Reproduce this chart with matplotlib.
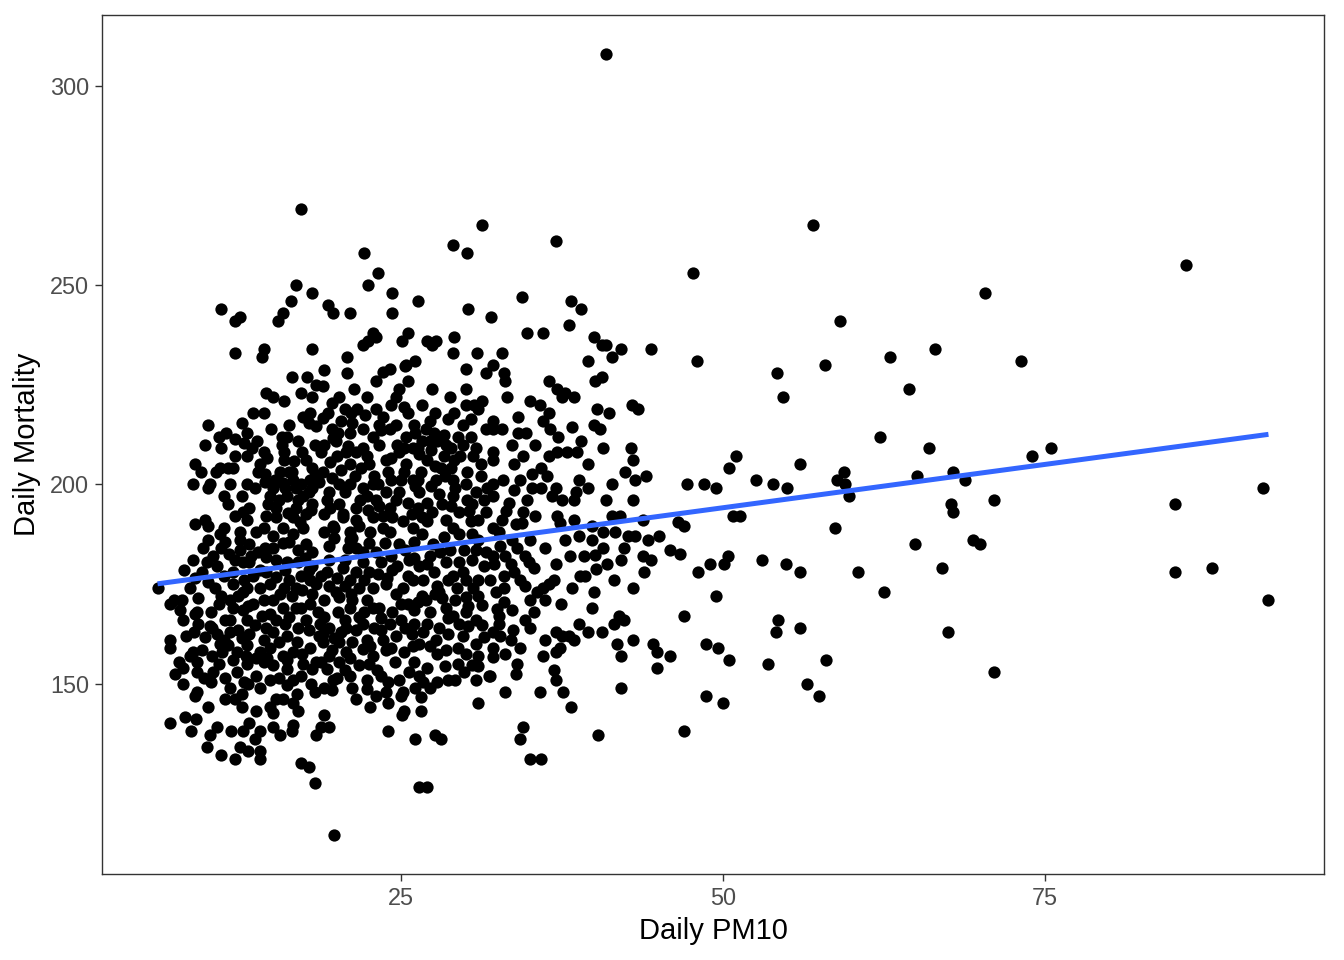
import numpy as np
import matplotlib
matplotlib.use("Agg")
import matplotlib.pyplot as plt

plt.rcParams['font.family'] = ['Liberation Sans', 'DejaVu Sans']

# sparse right-hand part (PM10 above ~45) plus the top outlier
right_x = [40.9, 57.0, 47.7, 86.0, 70.4, 59.1, 66.5, 63.0, 73.2, 54.2,
           57.9, 48.0, 64.5, 54.7, 62.2, 66.0, 75.5, 74.0, 51.0, 50.5,
           56.0, 65.1, 67.9, 59.4, 58.9, 59.5, 52.6, 53.9, 55.0, 68.8,
           67.7, 67.9, 59.8, 85.1, 92.0, 71.1, 69.4, 70.0, 64.9, 58.7,
           50.8, 51.3, 47.2, 48.5, 49.5, 50.4, 53.0, 49.0, 50.1, 48.1,
           54.9, 56.0, 60.5, 67.0, 85.1, 88.0, 92.4, 62.5, 49.5, 54.3,
           54.1, 56.0, 67.5, 47.0, 48.7, 49.6, 50.5, 53.5, 58.0, 71.1,
           56.5, 57.5, 48.7, 50.0, 47.0]
right_y = [308, 265, 253, 255, 248, 241, 234, 232, 231, 228,
           230, 231, 224, 222, 212, 209, 209, 207, 207, 204,
           205, 202, 203, 203, 201, 200, 201, 200, 199, 201,
           195, 193, 197, 195, 199, 196, 186, 185, 185, 189,
           192, 192, 200, 200, 199, 182, 181, 180, 180, 178,
           180, 178, 178, 179, 178, 179, 171, 173, 172, 166,
           163, 164, 163, 167, 160, 159, 156, 155, 156, 153,
           150, 147, 147, 145, 138]

# upper band (mortality above ~230)
top_x = [37.0, 34.4, 38.2, 39.0, 32.0, 38.0, 34.75, 36.0, 40.0, 40.6,
         40.9, 42.05, 44.4, 41.4, 32.8, 39.55, 32.1,
         31.3, 29.0, 30.1, 22.1, 23.2, 22.4, 24.3, 26.3, 19.3, 19.7,
         21.0, 24.3, 30.2, 22.8, 22.0, 22.4, 23.0, 25.5, 25.05, 27.0,
         27.7, 27.4, 29.1, 29.0, 30.9, 20.8, 26.1, 25.4,
         17.2, 16.8, 18.1, 16.4, 11.0, 15.8, 15.4, 12.5, 12.1, 18.1,
         12.1, 14.3, 14.2]
top_y = [261, 247, 246, 244, 242, 240, 238, 238, 237, 235,
         235, 234, 234, 232, 233, 231, 230,
         265, 260, 258, 258, 253, 250, 248, 246, 245, 243,
         243, 243, 244, 238, 235, 236, 237, 238, 236, 236,
         236, 235, 237, 233, 233, 232, 231, 230,
         269, 250, 248, 246, 244, 243, 241, 242, 241, 234,
         233, 234, 232]

# left block, mortality 189-228
ul_x = [16.5, 17.7, 18.4, 14.5, 15.0, 15.9, 17.2, 18.1, 13.5, 14.3,
        17.4, 17.9, 18.4, 10.0, 10.8, 13.0, 9.75, 11.0, 15.7, 16.1,
        15.7, 17.0, 18.3, 17.3, 14.3, 12.1, 13.0, 15.9, 15.9, 9.0,
        9.4, 10.9, 11.5, 11.9, 14.0, 13.9, 14.4, 15.6, 16.3, 18.1,
        8.85, 10.1, 10.0, 11.2, 13.0, 15.0, 15.8, 16.6, 16.85, 17.9,
        18.1, 16.1, 17.4, 14.65, 15.3, 16.85, 18.1, 13.2, 12.7, 12.1,
        13.0, 14.5, 15.3, 16.6, 17.6, 9.0, 9.75, 10.0, 11.2, 14.3,
        15.8, 17.4,
        16.0, 17.0, 15.2, 17.8, 16.5, 14.8, 18.3, 17.2, 15.5, 16.2,
        17.1, 18.0, 12.8, 13.8, 11.4, 12.6, 16.3, 14.9, 17.6, 16.7]
ul_y = [227, 227, 225, 223, 222, 221, 223, 222, 218, 218,
        217, 218, 214.6, 215, 212, 213, 210, 209, 212, 212,
        210, 211, 210, 208, 208, 207, 207, 208, 206, 205,
        203, 204, 204, 204, 205, 203, 202.5, 203, 203, 204,
        200, 200, 199, 197, 200, 199, 200.4, 201, 199, 201,
        199, 197, 197, 195, 194, 194, 195, 194, 193, 192,
        191, 192, 191.7, 191.7, 192.5, 190, 191, 189.6, 189, 189,
        189, 189,
        199, 196, 201, 198, 203, 197, 202, 200, 196, 192.8,
        190.5, 193.5, 210.5, 211, 213, 215.5, 215, 214, 206, 205.8]

# middle block, mortality 189-230
um_x = [19.0, 20.8, 23.6, 24.1, 23.0, 25.5, 25.3, 30.0, 24.8, 27.4,
        30.0, 31.6, 18.9, 20.2, 28.8, 31.3, 30.0, 30.65, 31.0, 29.1,
        23.0, 25.2, 25.5, 20.6, 21.6, 21.1, 19.3, 18.9, 21.2, 22.0,
        23.3, 23.4, 24.1, 24.6, 26.0, 26.9, 27.55, 28.3, 29.4, 30.4,
        25.35, 26.1, 26.65, 27.2, 27.8, 28.45, 21.0, 20.1, 19.7, 19.9,
        19.0, 24.7, 25.2, 24.8, 25.9, 26.4, 22.0, 21.5, 20.7, 28.85,
        28.3, 29.1, 29.6, 31.2, 18.9, 21.9, 22.5, 25.35, 25.2, 26.5,
        28.1, 27.7, 29.0, 30.0, 30.8, 31.7, 24.2, 25.0, 25.9, 26.1,
        26.4, 27.3, 22.8, 23.2, 22.0, 20.2, 21.0, 19.4, 23.8, 24.8,
        22.3, 29.0, 30.1, 31.4, 27.0, 25.5, 24.1, 23.3, 21.5, 20.2,
        19.2, 19.0, 20.45, 22.8, 24.3, 25.1, 26.65, 27.0, 28.45, 30.3,
        30.4, 31.55, 19.7, 21.75, 23.55, 25.9, 29.0,
        20.0, 21.0, 22.3, 23.3, 23.8, 24.0, 22.9, 21.4, 20.3, 19.5,
        20.6, 21.8, 23.0, 24.6, 26.3, 27.4, 28.2, 29.5, 29.2, 28.4,
        27.0, 26.3, 27.3, 29.8, 30.8, 31.2, 30.6, 31.6, 29.8, 28.6,
        27.6, 26.6, 24.2, 22.3, 19.6, 20.3]
um_y = [228.7, 228, 228.3, 229, 226, 226, 229.6, 229, 224, 224,
        224, 228, 224.6, 222, 222, 221, 220, 220, 219, 218,
        219, 219.3, 218, 219, 219, 218, 218, 216.7, 215.4, 214,
        215, 213.75, 214, 215, 215, 214, 213, 212.5, 212, 212,
        212, 213, 211, 211, 211, 210, 213, 213, 211.7, 211,
        210, 210, 209, 208, 209, 207.5, 209, 208, 208, 209,
        207, 206, 207, 205, 203, 204, 205, 205, 203, 203,
        204, 201, 201, 200, 198, 199, 201, 201, 201, 199.6,
        198, 199.6, 200, 200, 199, 200, 200, 198, 198, 198,
        197, 197, 196, 196, 195.4, 195.4, 194, 194.6, 194, 195,
        196, 192.5, 191.7, 191.7, 191.7, 190.8, 191.7, 190.8, 191, 193.3,
        190.8, 193, 189.6, 189.6, 189, 189, 189,
        207, 205, 207, 210, 206, 203, 202, 202, 203.5, 205.5,
        198, 196, 196, 196, 194, 193, 195, 193, 199, 202,
        206, 209, 208.5, 210, 209, 202, 207, 214, 215, 216.5,
        218, 220, 220, 222, 214, 216]

# right block, mortality 189-228
ur_x = [33.0, 33.05, 36.5, 37.1, 37.75, 38.4, 37.5, 40.05, 40.6, 35.0,
        35.8, 36.5, 36.0, 36.6, 37.2, 40.2, 41.15, 42.9, 43.4, 40.0,
        40.45, 32.1, 32.1, 32.8, 34.1, 34.7, 33.6, 35.4, 34.5, 36.5,
        37.1, 37.9, 38.65, 32.1, 32.1, 40.65, 42.85, 43.0, 39.55, 42.4,
        43.2, 44.05, 41.35, 35.9, 35.15, 36.3, 34.25, 32.9, 32.1, 35.15,
        35.9, 37.0, 38.8, 38.6, 36.7, 37.5, 38.4, 34.8, 32.1, 33.35,
        33.15, 35.4, 37.1, 37.35, 38.4, 41.35, 42.0, 34.4, 32.1, 39.8,
        43.8,
        33.8, 39.0, 34.1, 38.3, 33.2, 39.5, 40.9, 43.0]
ur_y = [228, 226, 226, 224, 223, 222, 222, 226, 227, 221,
        220, 218, 216, 214, 212, 219, 218, 220, 219, 215,
        214, 216, 214, 214, 213, 213, 210, 210, 207, 207,
        208, 208, 208, 208, 206, 209, 209, 206, 205, 203,
        201, 202, 200, 204, 202.5, 202, 201, 201, 200, 199,
        199, 199, 201, 198, 197, 196, 196, 196, 197, 195.4,
        193.3, 192, 192, 190.4, 191, 192, 192, 190.4, 189, 189.6,
        191,
        205, 211, 217, 214.5, 222, 199, 196, 196]

# left block, mortality 148-188
ll_x = [6.06, 8.6, 7.3, 7.95, 7.05, 9.1, 9.2, 7.05, 7.0, 8.85,
        7.7, 7.4, 9.1, 9.1, 10.0, 10.9, 12.5, 11.0, 10.4, 9.9,
        9.5, 12.1, 12.7, 13.2, 13.9, 14.4, 15.0, 15.8, 16.6, 17.6,
        18.1, 10.5, 11.0, 11.7, 12.3, 13.0, 14.0, 14.8, 15.3, 16.3,
        17.2, 17.9, 16.85, 14.3, 15.0, 15.8, 16.85, 17.9, 18.1, 11.3,
        11.7, 13.0, 13.6, 15.3, 16.3, 17.6, 17.0, 16.1, 15.0, 14.3,
        13.2, 11.7, 10.3, 9.75, 10.9, 11.55, 12.2, 13.0, 14.0, 14.8,
        15.8, 16.6, 17.9, 18.4, 17.4, 16.1, 15.0, 14.3, 13.0, 11.9,
        10.8, 10.4, 12.2, 13.75, 17.2, 18.1, 9.1, 11.7, 14.0, 16.1,
        18.3, 12.5, 13.75, 14.5, 14.5, 13.5, 11.9, 16.1, 17.0, 18.1,
        10.2, 10.8, 11.2, 12.8, 13.5, 12.7, 14.2, 15.6, 16.5, 17.3,
        18.4, 16.0, 17.5, 15.3, 13.2, 11.6, 10.7, 9.0, 8.0, 8.3,
        9.5, 10.3, 11.2, 12.6, 13.7, 15.5, 16.9, 18.6, 18.5, 17.8,
        12.8, 15.5, 16.9, 10.2, 8.0, 12.6]
ll_y = [174, 174, 171, 171, 170, 168, 165, 161, 159, 158,
        155.4, 152.5, 155.4, 153, 186, 187.5, 186, 184, 182, 180.4,
        178, 181, 180.4, 180.4, 183, 184, 184, 185.4, 187.5, 185,
        183, 174, 172, 171, 172, 174, 174, 175, 176.7, 176,
        177, 176, 174, 171, 171, 169, 169, 170, 172.5, 166,
        166, 166, 164.6, 166, 166.7, 166, 164, 162, 163, 161,
        162.5, 163, 164, 161.7, 160, 159.6, 158, 159.6, 158, 159,
        157, 158, 159, 155.4, 155, 153.75, 154.6, 155.4, 155, 156,
        155, 153, 153, 152, 152, 153.75, 148, 149, 149, 149.6,
        148, 188, 188, 181.7, 178, 177, 178, 180.4, 180.4, 179.6,
        168, 170, 177, 176, 170, 168.5, 167, 172.5, 172, 173.5,
        175, 178.5, 181.5, 181, 185, 182.5, 179.5, 176.5, 166, 162,
        158.5, 157, 161, 161.5, 156.5, 160.5, 160.5, 162, 168, 163.5,
        150.5, 151.5, 147.5, 150.5, 150, 147.5]

# middle block, mortality 148-188
lm_x = [19.4, 20.85, 21.5, 22.5, 23.7, 24.8, 26.65, 28.3, 29.5, 30.5,
        31.0, 19.0, 21.0, 22.6, 24.1, 19.4, 20.6, 22.0, 22.5, 21.5,
        20.45, 19.2, 25.6, 26.4, 27.2, 27.55, 28.45, 29.5, 30.5, 31.4,
        29.0, 30.0, 31.0, 27.8, 27.95, 26.65, 25.1, 24.6, 23.8, 22.8,
        21.75, 20.6, 19.4, 19.0, 20.2, 21.2, 22.3, 23.3, 25.0, 25.5,
        27.2, 28.45, 29.2, 30.0, 31.0, 31.3, 30.0, 29.0, 29.5, 27.9,
        27.0, 26.0, 25.0, 24.1, 22.8, 21.75, 21.0, 20.1, 19.0, 19.4,
        20.7, 21.5, 22.9, 26.4, 27.7, 31.3, 31.4, 18.9, 20.2, 22.3,
        19.4, 20.7, 22.0, 22.8, 25.2, 24.5, 26.0, 27.0, 29.4, 30.0,
        31.0, 29.4, 30.5, 19.2, 20.6, 21.75, 23.4, 22.3, 19.7, 21.0,
        24.85, 26.4, 28.6, 29.2, 30.8, 31.8, 19.0, 23.8, 27.2, 25.1,
        26.1,
        19.8, 21.2, 23.0, 24.2, 25.3, 26.0, 27.5, 28.8, 29.9, 30.8,
        20.0, 21.0, 23.2, 24.3, 25.5, 26.7, 28.6, 30.6, 24.3, 26.0,
        26.9, 28.2, 30.8, 23.4, 22.1, 20.6, 19.8, 21.2, 23.6, 24.6,
        25.8, 28.6, 29.8, 23.8, 27.8, 28.4, 25.6, 22.5, 20.2, 31.0,
        27.8, 22.3]
lm_y = [184.6, 184, 184, 185.4, 185.4, 185, 187.5, 186.7, 187.5, 187.5,
        186, 188, 188, 188, 188, 181, 181, 180.4, 178, 178,
        179, 178, 181, 179.6, 182, 178, 180.4, 180.4, 181, 179.6,
        177, 176, 176, 174.6, 173, 172, 174, 172.5, 175, 174,
        174, 174.6, 174.6, 171, 171.7, 171, 171, 169, 170, 170,
        168, 169, 171, 171.7, 172, 169.6, 168, 167, 165, 164,
        165, 165, 166, 165, 169, 166.7, 169, 168, 166.7, 164,
        164, 163.4, 164, 160, 161, 164.6, 161.7, 160.4, 160.4, 161,
        157, 158, 158.75, 157, 158, 155.4, 155.4, 154, 159, 157.5,
        157, 155, 154.6, 153.75, 153.3, 154.6, 152, 151, 151, 152,
        151, 152, 151, 151, 151, 152, 149, 148, 149, 148,
        149,
        186.5, 186.5, 183, 182, 183.5, 185.5, 185, 183.5, 183.5, 183.5,
        176.5, 176, 177.5, 178.5, 177, 176, 176, 174, 168, 168.5,
        171, 171.5, 166, 166.5, 168, 166, 161.5, 160.5, 161, 162,
        162.5, 162.5, 162, 158.5, 157.5, 154.5, 153, 155, 155.5, 154.5,
        150.5, 148.7]

# right block, mortality 148-188
lr_x = [32.6, 33.6, 37.75, 38.8, 40.7, 41.6, 42.65, 43.2, 44.2, 36.2,
        40.7, 32.1, 33.05, 34.65, 38.1, 39.2, 40.05, 43.8, 44.45, 42.05,
        32.2, 33.5, 34.9, 35.3, 40.1, 33.75, 34.25, 39.3, 38.9, 43.85,
        36.85, 36.45, 36.0, 35.55, 38.25, 40.0, 41.5, 43.0, 33.0, 32.4,
        35.0, 36.2, 37.4, 33.0, 32.45, 32.6, 34.65, 35.0, 38.8, 39.55,
        40.6, 41.9, 42.3, 41.55, 37.0, 37.5, 38.0, 38.4, 36.2, 32.1,
        32.7, 33.5, 32.1, 34.25, 37.35, 37.0, 41.75, 43.0, 44.6, 44.85,
        42.05, 32.1, 34.0, 33.9, 36.85, 37.0, 31.9, 44.85, 42.05, 33.05,
        35.8, 37.6,
        46.5, 47.0, 45.9, 46.7, 45.0, 45.9,
        34.0, 35.0, 39.8, 42.3, 37.0, 41.0, 35.3, 39.8, 33.7, 36.0]
lr_y = [188, 186, 186, 187, 188, 188, 187, 187, 186, 184,
        184, 182, 182, 182, 182, 182, 182.25, 182, 181, 181,
        180, 180, 180.4, 179, 178.75, 178, 176, 177, 177, 178,
        176, 175, 174, 173, 174, 173, 176, 174, 174, 173,
        171, 171, 170, 170.4, 168.75, 167, 166, 164, 165, 163,
        163, 167, 166, 165, 163, 162, 162, 161, 161, 163,
        162, 161, 159, 159, 159, 158, 160, 161, 160, 158,
        157, 156.7, 155, 152.5, 153.3, 151, 152, 154, 149, 148,
        148, 148,
        190.5, 189.5, 183.5, 182.5, 187.0, 157,
        184, 186, 186, 184, 180, 180, 168, 169, 163.5, 157]

# points hidden inside the solid black core (overlaps, estimated)
core_x = [11.5, 12.6, 13.6, 14.4, 19.5, 20.5, 21.5, 22.4, 23.6, 25.8,
          27.9, 28.9, 30.5, 31.0, 32.8, 33.8, 34.5, 19.8, 21.0, 22.0,
          23.4, 24.7, 26.0, 27.0, 28.0, 29.8, 31.6, 32.7, 33.9, 17.0,
          16.3, 15.0, 13.3, 12.5, 11.3, 9.6, 8.8, 8.1, 9.2, 10.0,
          11.9, 12.7, 14.0, 15.9, 17.8, 18.8, 19.9, 21.1, 22.1, 23.9,
          25.9, 26.3, 27.6, 29.3, 30.2, 31.9, 33.0, 34.6, 18.7, 17.2,
          14.8, 13.1, 11.9, 10.1, 8.9, 9.0, 10.7, 12.3, 14.5, 16.0,
          18.9, 20.3, 22.0, 23.4, 25.3, 26.7, 28.6, 30.2, 32.6, 33.6,
          19.6, 21.0, 22.6, 24.2, 25.9, 27.2, 28.5, 30.8, 33.1, 11.1,
          12.9, 14.6, 16.1, 17.3, 18.8, 20.0, 23.1, 24.0, 26.7, 29.9,
          9.7, 11.3, 13.1, 14.8, 16.6, 18.0, 19.6, 21.2, 8.6, 8.0,
          7.8, 14.6, 13.4, 12.1, 11.7, 10.6, 17.8, 18.8, 18.6, 19.6,
          20.9, 22.8, 23.6, 22.2, 24.2, 27.6, 28.9, 30.1, 26.3, 27.2,
          24.6, 21.3, 19.6, 30.4]
core_y = [195, 197, 199, 200.5, 194, 192.5, 191, 193.5, 192, 192.5,
          197.5, 194.5, 195, 191, 191, 198.5, 193, 189, 186, 183,
          180.5, 179.5, 181.5, 180, 183, 178, 183, 184.5, 190, 183.5,
          185.5, 187, 182, 183.5, 185.5, 184, 181, 178.5, 171.5, 175.5,
          175, 173, 178.5, 174, 178.5, 177, 173, 172.5, 176, 176.5,
          176, 170.5, 172.5, 174, 169.5, 176, 177, 174.5, 165, 169,
          167.5, 169.5, 169, 164.5, 163, 167.5, 162.5, 163.5, 164, 165,
          162.5, 163, 165, 163.5, 164, 163, 166.5, 164.5, 165, 168.5,
          158.5, 156.5, 159.5, 159, 159.5, 159.5, 158.5, 160, 157.5, 158,
          157, 156.5, 156, 157.5, 155.5, 151.5, 153.5, 150.5, 150.5, 153,
          151.5, 151.5, 150, 151, 151, 150, 148.3, 149, 157, 154,
          168.5, 206.5, 209, 211.5, 200, 203, 215.5, 208, 200.5, 201.5,
          209.5, 212, 217, 217.5, 206.5, 204.5, 204, 203, 201, 216,
          222, 224, 220.5, 216.5]

# lower tail (mortality below ~148)
low_x = [9.0, 11.3, 12.1, 10.0, 12.6, 13.75, 14.8, 15.3, 15.8, 16.6,
         17.0, 15.0, 7.05, 8.2, 9.05, 8.65, 10.65, 10.1, 11.8, 12.7,
         13.2, 14.0, 13.6, 15.0, 15.55, 16.6, 16.5, 18.4, 9.9, 11.0,
         12.1, 12.5, 13.1, 14.0, 14.0, 17.2, 17.8, 18.3,
         21.5, 23.0, 22.6, 24.0, 25.0, 25.2, 25.05, 26.5, 26.5, 31.0,
         19.0, 19.4, 18.8, 24.0, 26.05, 27.6, 28.1, 26.4, 27.0, 19.8,
         38.2, 34.5, 34.2, 40.3, 35.0, 35.85]
low_y = [147, 146, 146, 144, 144, 143, 144, 146, 146, 145,
         143, 142.5, 140, 141.7, 141, 138, 139, 137, 138, 138,
         140, 138, 136, 139, 137, 139.6, 138, 137, 134, 132,
         131, 134, 133, 133, 131, 130, 129, 125,
         146, 147, 144, 145, 147, 143, 142, 146.7, 143, 145,
         142, 139, 139, 138, 136, 137, 136, 124, 124, 112,
         144, 139, 136, 137, 131, 131]

# fitted straight line (geom_smooth, method = "lm")
fit_intercept = 172.4
fit_slope = 0.4345

pm10 = np.array(right_x + top_x + ul_x + um_x + ur_x + ll_x + lm_x + lr_x
                + core_x + low_x)
deaths = np.array(right_y + top_y + ul_y + um_y + ur_y + ll_y + lm_y + lr_y
                  + core_y + low_y)
assert len(pm10) == len(deaths), (len(pm10), len(deaths))

line_x = np.array([pm10.min(), pm10.max()])
line_y = fit_intercept + fit_slope * line_x

fig = plt.figure(figsize=(13.44, 9.6), dpi=100)
ax = fig.add_axes([102 / 1344, 86 / 960, 1222 / 1344, 859 / 960])

ax.scatter(pm10, deaths, s=78, color='black', linewidths=0, zorder=2)
ax.plot(line_x, line_y, color='#3366FF', linewidth=3.6, zorder=3,
        solid_capstyle='butt')

# ggplot-style 5% expansion
xr = pm10.max() - pm10.min()
yr = deaths.max() - deaths.min()
ax.set_xlim(pm10.min() - 0.05 * xr, pm10.max() + 0.05 * xr)
ax.set_ylim(deaths.min() - 0.05 * yr, deaths.max() + 0.05 * yr)

ax.set_xticks([25, 50, 75])
ax.set_yticks([150, 200, 250, 300])
ax.tick_params(axis='both', direction='out', length=5.3, width=1.0,
               color='#333333', labelcolor='#4D4D4D', labelsize=16.9, pad=4.2)
for sp in ax.spines.values():
    sp.set_color('#333333')
    sp.set_linewidth(1.0)

ax.set_xlabel('Daily PM10', fontsize=21, labelpad=5)
ax.set_ylabel('Daily Mortality', fontsize=21, labelpad=6)

fig.savefig('out.png', dpi=100)
